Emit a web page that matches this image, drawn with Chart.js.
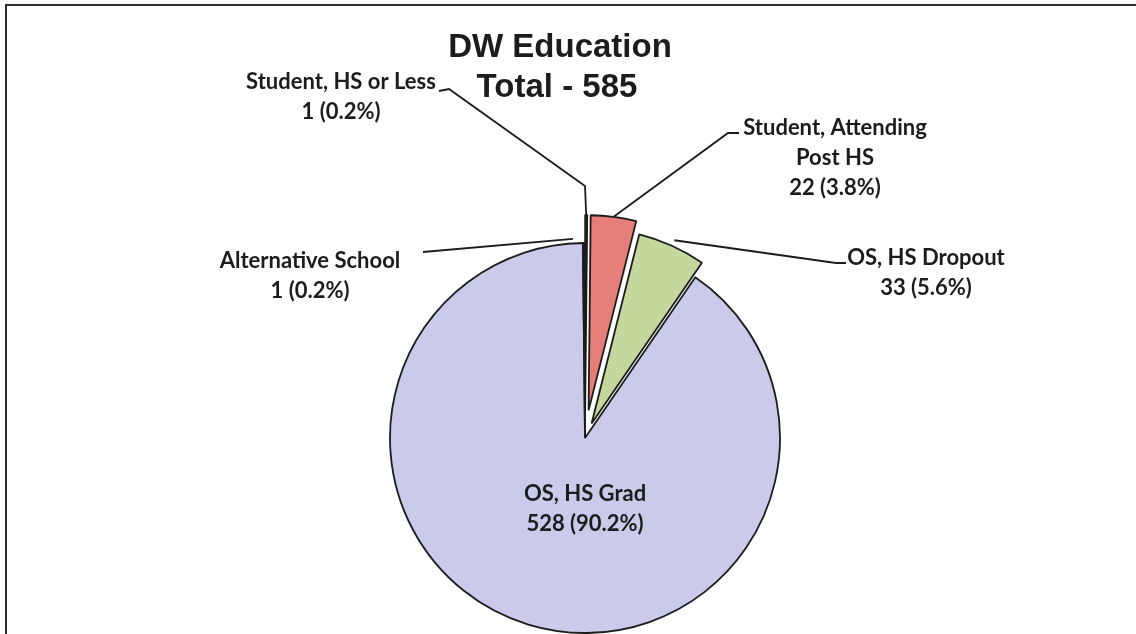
<!DOCTYPE html>
<html>
<head>
<meta charset="utf-8">
<script src="https://cdn.jsdelivr.net/npm/chart.js@4.4.1/dist/chart.umd.min.js"></script>
<style>
  html, body { margin: 0; padding: 0; background: #fff; }
  #wrap { position: relative; width: 1136px; height: 634px; overflow: hidden; }
  #frame { position: absolute; left: 5px; top: 4px; width: 1200px; height: 700px;
           border-left: 2px solid #2e2e2e; border-top: 2px solid #2e2e2e; }
  #pieChart { position: absolute; left: 0; top: 0; }
</style>
</head>
<body>
<div id="wrap">
  <div id="frame"></div>
  <canvas id="pieChart" width="1136" height="634"></canvas>
</div>
<script>
// education breakdown, clockwise from 12 o'clock
const categories = [
  ['Student, HS or Less'],
  ['Student, Attending', 'Post HS'],
  ['OS, HS Dropout'],
  ['OS, HS Grad'],
  ['Alternative School']
];
const counts = [1, 22, 33, 528, 1];
const pctLabels = ['0.2%', '3.8%', '5.6%', '90.2%', '0.2%'];
const titleLines = ['DW Education', 'Total - ' + counts.reduce((a, b) => a + b, 0)];

const sliceColors = ['#2a2a2a', '#e67f79', '#c4d79c', '#cacaea', '#3a3a3a'];
const sliceExplode = [28, 28, 16, 0, 0];

// label placement: text centre, leader elbow points, extra reach past the rim, gap at the slice end
const labelSpots = [[341, 82], [835, 128], [926, 258], [585, 494], [310, 261]];
const leaderPaths = [
  [[439, 91], [449, 89], [585, 186]],
  [[739, 133], [728, 133]],
  [[846, 263], [836, 263]],
  null,
  [[423, 252]]
];
const leaderReach = [0, 0, 6, 0, 5];
const leaderGap = [0, 0, 0, 0, 11];

// pie slice that can be pulled out of the pie without growing
class ExplodedArc extends Chart.ArcElement {
  static id = 'explodedArc';
  static defaults = { explode: 0 };
  draw(ctx) {
    const d = this.options.explode || 0;
    const mid = (this.startAngle + this.endAngle) / 2;
    ctx.save();
    ctx.translate(Math.cos(mid) * d, Math.sin(mid) * d);
    super.draw(ctx);
    ctx.restore();
  }
}
class ExplodedPie extends Chart.PieController {
  static id = 'explodedPie';
  static defaults = { dataElementType: 'explodedArc' };
}
Chart.register(ExplodedArc, ExplodedPie);

const labelFont = 'bold 22px Lato, "Open Sans", sans-serif';
const textColor = '#1c1c1c';

const leaderLabels = {
  id: 'leaderLabels',
  afterDatasetsDraw(chart) {
    const ctx = chart.ctx;
    const arcs = chart.getDatasetMeta(0).data;
    ctx.save();

    // leader lines
    ctx.strokeStyle = '#1c1c1c';
    ctx.lineWidth = 1.8;
    arcs.forEach((arc, i) => {
      const path = leaderPaths[i];
      if (!path) return;
      const mid = (arc.startAngle + arc.endAngle) / 2;
      const d = arc.options.explode || 0;
      const r = arc.outerRadius + leaderReach[i];
      let ex = arc.x + Math.cos(mid) * (d + r);
      let ey = arc.y + Math.sin(mid) * (d + r);
      const last = path[path.length - 1];
      if (leaderGap[i]) {
        const len = Math.hypot(ex - last[0], ey - last[1]);
        ex -= (ex - last[0]) / len * leaderGap[i];
        ey -= (ey - last[1]) / len * leaderGap[i];
      }
      ctx.beginPath();
      ctx.moveTo(path[0][0], path[0][1]);
      for (let k = 1; k < path.length; k++) ctx.lineTo(path[k][0], path[k][1]);
      ctx.lineTo(ex, ey);
      ctx.stroke();
    });

    // slice labels
    ctx.fillStyle = textColor;
    ctx.font = labelFont;
    ctx.textAlign = 'center';
    ctx.textBaseline = 'middle';
    categories.forEach((name, i) => {
      const lines = name.concat([counts[i] + ' (' + pctLabels[i] + ')']);
      lines.forEach((t, k) => ctx.fillText(t, labelSpots[i][0], labelSpots[i][1] + k * 30));
    });

    // title
    ctx.font = 'bold 33px "Liberation Sans", Arial, sans-serif';
    ctx.textBaseline = 'alphabetic';
    ctx.fillText(titleLines[0], 560, 57);
    ctx.fillText(titleLines[1], 557, 97);
    ctx.restore();
  }
};

new Chart(document.getElementById('pieChart'), {
  type: 'explodedPie',
  data: {
    labels: categories,
    datasets: [{
      data: counts,
      backgroundColor: sliceColors,
      borderColor: '#1c1c1c',
      borderWidth: 1.8,
      explode: sliceExplode,
      clip: false
    }]
  },
  options: {
    responsive: false,
    devicePixelRatio: 1,
    animation: false,
    radius: 195,
    layout: { padding: { left: 34, top: 242, right: 0, bottom: 0 } },
    plugins: {
      legend: { display: false },
      tooltip: { enabled: false },
      title: { display: false }
    }
  },
  plugins: [leaderLabels]
});
</script>
</body>
</html>
